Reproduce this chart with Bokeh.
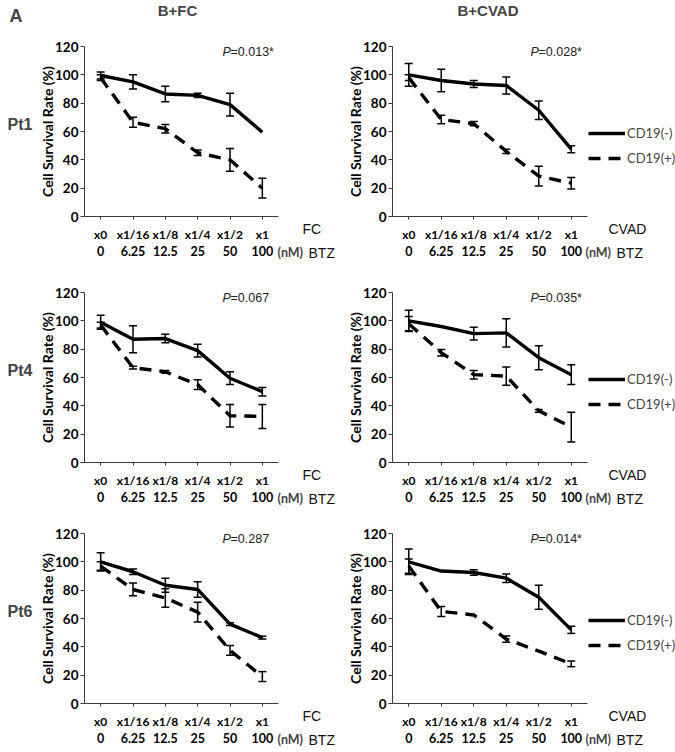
import math
from bokeh.plotting import figure
from bokeh.models import (Range1d, FixedTicker, LinearAxis, Whisker, TeeHead,
                          ColumnDataSource, Label, Legend, LegendItem)
from bokeh.layouts import column, row
from bokeh.embed import file_html
from bokeh.resources import INLINE

# ---------------- data ----------------
fc_labels = ["x0", "x1/16", "x1/8", "x1/4", "x1/2", "x1"]
btz_labels = ["0", "6.25", "12.5", "25", "50", "100"]
y_ticks = [0, 20, 40, 60, 80, 100, 120]

pt1_fc_neg = [99.5, 95, 86.5, 85.5, 79, 59.5]
pt1_fc_neg_err = [2.5, 5, 5.5, 1.5, 8, 0]
pt1_fc_pos = [98, 66.5, 62, 45, 40, 20]
pt1_fc_pos_err = [2, 3.5, 3, 2, 8, 7]

pt1_cvad_neg = [100, 96, 93.5, 92.5, 75, 47.5]
pt1_cvad_neg_err = [8, 8, 2.5, 6, 6.5, 2.5]
pt1_cvad_pos = [98, 68.5, 65.5, 46, 28.5, 23.5]
pt1_cvad_pos_err = [2, 3, 1.5, 1.5, 7, 4]

pt4_fc_neg = [99, 87, 87.5, 79, 59.5, 50]
pt4_fc_neg_err = [5, 9.5, 3, 4.5, 4.5, 3]
pt4_fc_pos = [97, 67, 64, 55, 33, 32.5]
pt4_fc_pos_err = [2, 1, 1, 3.5, 8, 8.5]

pt4_cvad_neg = [100, 96, 91, 91.5, 74, 62]
pt4_cvad_neg_err = [7.5, 0, 4.5, 10, 8.5, 7]
pt4_cvad_pos = [98, 77.5, 62, 61, 36.5, 25]
pt4_cvad_pos_err = [5, 2.3, 3, 6.5, 1, 10.5]

pt6_fc_neg = [100, 93, 83.5, 80.5, 56, 46.5]
pt6_fc_neg_err = [6.5, 2, 5, 5.5, 1, 1]
pt6_fc_pos = [97, 80.5, 74.5, 64.5, 37.5, 19]
pt6_fc_pos_err = [3, 4.5, 6.5, 7, 3.5, 3.5]

pt6_cvad_neg = [100, 93.5, 92.5, 88.5, 75, 52]
pt6_cvad_neg_err = [9, 0, 2, 3, 8.5, 2.5]
pt6_cvad_pos = [97, 65, 62.5, 45.5, 37, 28]
pt6_cvad_pos_err = [5, 3.5, 0, 2.2, 0, 2]

p_values = [["0.013*", "0.028*"], ["0.067", "0.035*"], ["0.287", "0.014*"]]
patients = ["Pt1", "Pt4", "Pt6"]
regimens = ["FC", "CVAD"]
titles = ["B+FC", "B+CVAD"]
series_names = ["CD19(-)", "CD19(+)"]

panel_data = [
    [(pt1_fc_neg, pt1_fc_neg_err, pt1_fc_pos, pt1_fc_pos_err),
     (pt1_cvad_neg, pt1_cvad_neg_err, pt1_cvad_pos, pt1_cvad_pos_err)],
    [(pt4_fc_neg, pt4_fc_neg_err, pt4_fc_pos, pt4_fc_pos_err),
     (pt4_cvad_neg, pt4_cvad_neg_err, pt4_cvad_pos, pt4_cvad_pos_err)],
    [(pt6_fc_neg, pt6_fc_neg_err, pt6_fc_pos, pt6_fc_pos_err),
     (pt6_cvad_neg, pt6_cvad_neg_err, pt6_cvad_pos, pt6_cvad_pos_err)],
]

# ---------------- layout (pixels) ----------------
FH = 170
row_geom = [(262, 46), (244, 30), (246, 27)]   # figure height, plot-area top
col_geom = [(337, 84, 194), (338, 55, 195)]    # figure width, plot-area left, plot-area width

ARIAL = "Liberation Sans"
CAL = "Lato"
AX = "#3a3a3a"


def make_panel(r, c):
    H, top = row_geom[r]
    W, left, FW = col_geom[c]
    XS = FW / 6.0
    YS = FH / 120.0
    x0 = -0.5 - left / XS
    y1 = 120 + top / YS

    def xd(px):
        return -0.5 + px / XS

    def yd(px):
        return 120 - px / YS

    p = figure(width=W, height=H, output_backend="svg", toolbar_location=None,
               x_range=Range1d(x0, x0 + W / XS), y_range=Range1d(y1 - H / YS, y1),
               min_border=0, min_border_left=0, min_border_right=0,
               min_border_top=0, min_border_bottom=0)
    p.outline_line_color = None
    p.xgrid.visible = False
    p.ygrid.visible = False

    xs = list(range(len(fc_labels)))

    # x axis 1 (regimen fractions)
    xa = p.xaxis[0]
    xa.fixed_location = 0
    xa.bounds = (-0.5, 5.5)
    xa.ticker = FixedTicker(ticks=xs)
    xa.major_label_overrides = {i: t for i, t in enumerate(fc_labels)}
    xa.axis_line_color = AX
    xa.major_tick_line_color = AX
    xa.major_tick_out = 3
    xa.major_tick_in = 0
    xa.minor_tick_line_color = None
    xa.major_label_standoff = 7
    xa.major_label_text_font = CAL
    xa.major_label_text_font_style = "bold"
    xa.major_label_text_font_size = "12px"
    xa.major_label_text_color = "black"

    # x axis 2 (BTZ doses)
    xb = LinearAxis(ticker=FixedTicker(ticks=xs), fixed_location=0,
                    bounds=(-0.5, 5.5),
                    major_label_overrides={i: t for i, t in enumerate(btz_labels)},
                    axis_line_color=None, major_tick_line_color=None,
                    minor_tick_line_color=None, major_tick_out=0, major_tick_in=0,
                    major_label_standoff=29, major_label_text_font=CAL,
                    major_label_text_font_style="bold",
                    major_label_text_font_size="12.5px",
                    major_label_text_color="black")
    p.add_layout(xb, "below")

    # y axis
    ya = p.yaxis[0]
    ya.fixed_location = -0.5
    ya.bounds = (0, 120)
    ya.ticker = FixedTicker(ticks=y_ticks)
    ya.axis_line_color = AX
    ya.major_tick_line_color = AX
    ya.major_tick_out = 4
    ya.major_tick_in = 0
    ya.minor_tick_line_color = None
    ya.major_label_standoff = 2
    ya.major_label_text_font = CAL
    ya.major_label_text_font_style = "bold"
    ya.major_label_text_font_size = "13.5px"
    ya.major_label_text_color = "black"

    p.add_layout(Label(x=xd(-37), y=yd(FH / 2), text="Cell Survival Rate (%)",
                       angle=math.pi / 2, text_font=CAL, text_font_style="bold",
                       text_font_size="14px", text_align="center",
                       text_baseline="middle", text_color="black"))

    neg, neg_err, pos, pos_err = panel_data[r][c]

    # error bars
    for vals, errs in ((neg, neg_err), (pos, pos_err)):
        bx = [x for x, e in zip(xs, errs) if e > 0]
        up = [v + e for v, e in zip(vals, errs) if e > 0]
        lo = [v - e for v, e in zip(vals, errs) if e > 0]
        src = ColumnDataSource(dict(x=bx, upper=up, lower=lo))
        w = Whisker(base="x", upper="upper", lower="lower", source=src,
                    line_color="black", line_width=1.5,
                    upper_head=TeeHead(size=8, line_width=1.5, line_color="black"),
                    lower_head=TeeHead(size=8, line_width=1.5, line_color="black"))
        w.level = "glyph"
        p.add_layout(w)

    r_neg = p.line(xs, neg, line_color="black", line_width=3.4)
    r_pos = p.line(xs, pos, line_color="black", line_width=3.4,
                   line_dash="12 8")

    # P value
    p.add_layout(Label(x=xd(138), y=yd(5), text="P", text_font=ARIAL,
                       text_font_style="italic", text_font_size="12.5px",
                       text_baseline="middle", text_align="left",
                       text_color="#222222"))
    p.add_layout(Label(x=xd(146), y=yd(5), text="=" + p_values[r][c],
                       text_font=ARIAL, text_font_size="12.5px",
                       text_baseline="middle", text_align="left",
                       text_color="#222222"))

    # x unit labels
    p.add_layout(Label(x=xd(216 if c else 218), y=yd(FH + 12), text=regimens[c],
                       text_font=ARIAL, text_font_size="14px",
                       text_baseline="middle", text_align="left",
                       text_color="#111111"))
    p.add_layout(Label(x=xd(193), y=yd(FH + 36), text="(nM)",
                       text_font=CAL, text_font_style="bold",
                       text_font_size="12.5px",
                       text_baseline="middle", text_align="left"))
    p.add_layout(Label(x=xd(224), y=yd(FH + 36), text="BTZ",
                       text_font=ARIAL, text_font_size="14px",
                       text_baseline="middle", text_align="left",
                       text_color="#111111"))

    if c == 0:
        p.add_layout(Label(x=xd(-77), y=yd(78), text=patients[r],
                           text_font=ARIAL, text_font_style="bold",
                           text_font_size="16px", text_baseline="middle",
                           text_align="left"))
    else:
        bot = H - top - FH
        legend = Legend(items=[LegendItem(label=series_names[0], renderers=[r_neg]),
                               LegendItem(label=series_names[1], renderers=[r_pos])],
                        location=(left + FW + 1, bot + FH - 122), orientation="vertical",
                        glyph_width=37, glyph_height=20, spacing=5, padding=0,
                        margin=0, label_standoff=2, border_line_color=None,
                        background_fill_alpha=0, label_text_font=CAL,
                        label_text_font_size="13px", label_height=20)
        p.add_layout(legend)

    if r == 0:
        if c == 0:
            p.add_layout(Label(x=xd(-75), y=yd(-31), text="A", text_font=ARIAL,
                               text_font_style="bold", text_font_size="18px",
                               text_baseline="middle", text_align="left"))
        p.add_layout(Label(x=xd(FW / 2 - (4 if c == 0 else 2)), y=yd(-36),
                           text=titles[c], text_font=ARIAL, text_font_style="bold",
                           text_font_size="15px", text_baseline="middle",
                           text_align="center"))
    return p


rows = []
for r in range(3):
    rows.append(row(make_panel(r, 0), make_panel(r, 1)))
layout = column(*rows)

open("out.html", "w").write(file_html(layout, INLINE))
